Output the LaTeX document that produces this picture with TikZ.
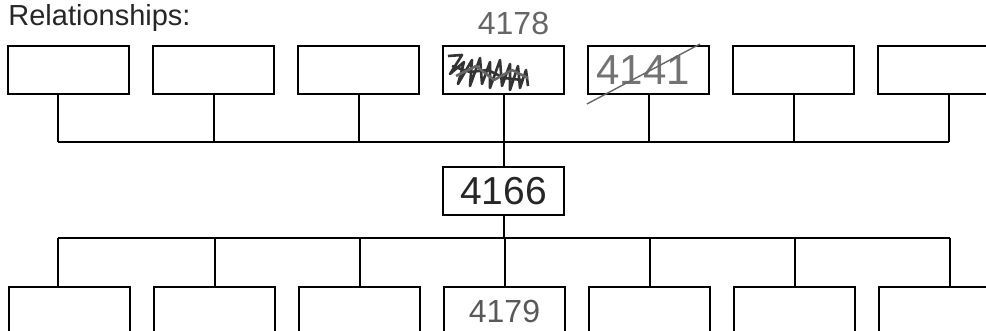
\documentclass[tikz,border=0pt]{standalone}
\usepackage{fontspec}
\setmainfont{Liberation Sans}
\usetikzlibrary{positioning}

\begin{document}
\begin{tikzpicture}[
  x=0.5pt, y=-0.5pt,
  famnode/.style={draw, rectangle, line width=1pt, minimum width=60.5pt, minimum height=24pt, inner sep=0pt},
  link/.style={line width=1pt},
  pencil/.style={line width=0.7pt, black!60},
  scrawl/.style={line width=1.3pt, black!80, line join=round}
]

\clip (0,0) rectangle (986,331);

\node[anchor=base west, inner sep=0pt, font=\fontsize{14.5}{14.5}\selectfont, text=black!85] (title) at (8,26) {Relationships:};

% parents row
\node[famnode] (t1) at (68.5,70) {};
\node[famnode] (t2) [right=11pt of t1] {};
\node[famnode] (t3) [right=11pt of t2] {};
\node[famnode] (t4) [right=11pt of t3] {};
\node[famnode, font=\fontsize{21}{21}\selectfont, text=black!55, text width=52pt, align=left] (t5) [right=11pt of t4] {4141};
\node[famnode] (t6) [right=11pt of t5] {};
\node[famnode] (t7) [right=11pt of t6] {};

% handwritten note above the scribbled box
\node[inner sep=0pt, font=\fontsize{16}{16}\selectfont, text=black!60, xshift=5pt] (note) [above=5pt of t4] {4178};

% centre person
\node[famnode, font=\fontsize{19.5}{19.5}\selectfont, text=black!85] (mid) [below=35.5pt of t4] {4166};

% children row
\node[famnode] (b1) at (69.5,311) {};
\node[famnode] (b2) [right=11pt of b1] {};
\node[famnode] (b3) [right=11pt of b2] {};
\node[famnode, font=\fontsize{16}{16}\selectfont, text=black!65] (b4) [right=11pt of b3] {4179};
\node[famnode] (b5) [right=11pt of b4] {};
\node[famnode] (b6) [right=11pt of b5] {};
\node[famnode] (b7) [right=11pt of b6] {};

% bus ends
\coordinate (upL) at (58,142);
\coordinate (upR) at (949,142);
\coordinate (loL) at (58,238);
\coordinate (loR) at (950,238);

% upper bus
\draw[link] (upL) -- (upR);
\draw[link] (t1.south -| upL) -- (upL);
\draw[link] (t2.south) -- (t2.south |- upL);
\draw[link] (t3.south) -- (t3.south |- upL);
\draw[link] (t5.south) -- (t5.south |- upL);
\draw[link] (t6.south) -- (t6.south |- upL);
\draw[link] (t7.south -| upR) -- (upR);
\draw[link] (t4.south) -- (mid.north);

% lower bus
\draw[link] (mid.south) -- (mid.south |- loL);
\draw[link] (loL) -- (loR);
\draw[link] (loL) -- (b1.north -| loL);
\draw[link] (b2.north |- loL) -- (b2.north);
\draw[link] (b3.north |- loL) -- (b3.north);
\draw[link] (b4.north |- loL) -- (b4.north);
\draw[link] (b5.north |- loL) -- (b5.north);
\draw[link] (b6.north |- loL) -- (b6.north);
\draw[link] (loR) -- (b7.north -| loR);

% crossed out entries
\draw[pencil] ([shift={(0,9)}]t5.south west) -- ([shift={(-10,-1)}]t5.north east);
\draw[scrawl] (448,56) -- (462,55) -- (450,74) -- (464,62) -- (458,84) -- (472,60)
  -- (470,86) -- (480,58) -- (482,84) -- (490,62) -- (490,88) -- (500,60)
  -- (502,86) -- (510,64) -- (510,90) -- (518,66) -- (520,88) -- (526,70)
  -- (528,86);
\draw[scrawl] (452,66) -- (470,72) -- (488,70) -- (504,78) -- (522,80);
\draw[scrawl, black!60] (456,76) -- (476,66) -- (494,80) -- (512,70) -- (528,78);

\end{tikzpicture}
\end{document}
